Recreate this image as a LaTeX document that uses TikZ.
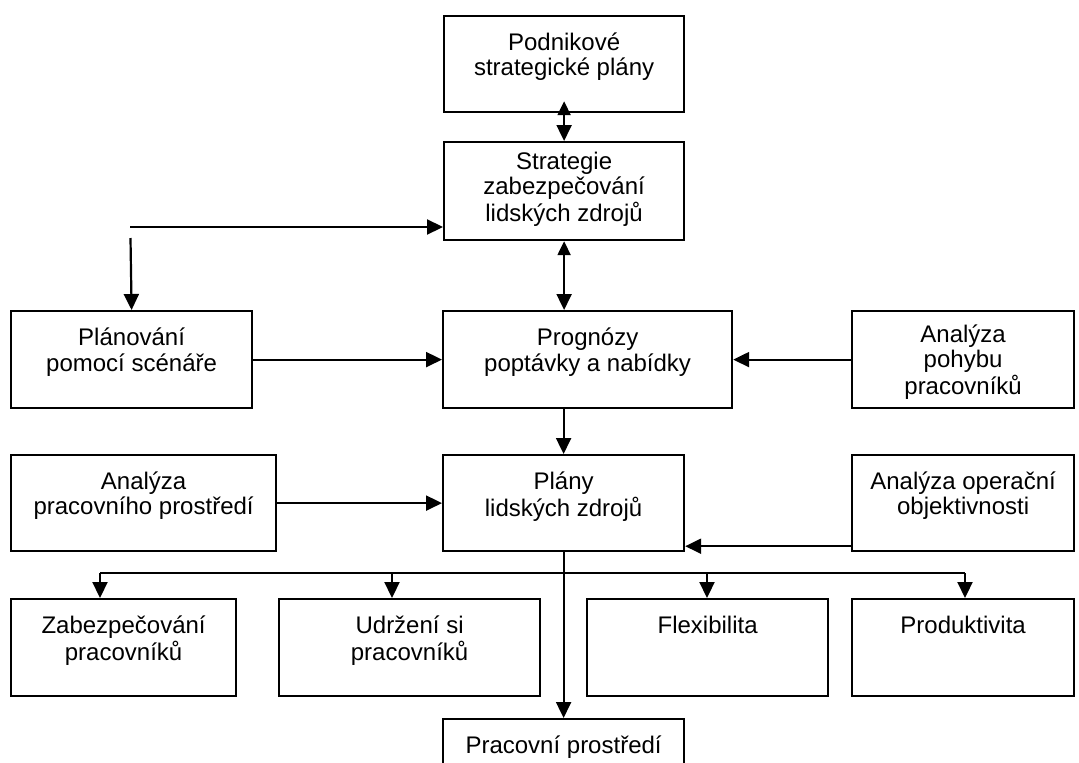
\documentclass[tikz,border=0pt]{standalone}
\usepackage{fontspec}
\setmainfont{Liberation Sans}
\usepackage{tikz}
\usetikzlibrary{arrows.meta}
\usetikzlibrary{positioning}
\newcommand{\boxlines}[1]{\begin{tabular}[t]{@{}c@{}}#1\end{tabular}}
\tikzset{arr/.style = {-{Triangle[length=16pt, width=15pt]}}}
\tikzset{darr/.style = {{Triangle[length=14pt, width=13pt]}-{Triangle[length=16pt, width=15pt]}}}
\tikzset{box/.style = {draw, anchor = north west, inner sep = 0, minimum height = 96,
                       text height = 34, text depth = 62}}

\begin{document}
\begin{tikzpicture}[x=1pt, y=-1pt, line width=2.2pt,
    font=\fontsize{24}{25.5}\selectfont]
    \useasboundingbox (0, 0) rectangle (1079, 763);

    \node [box, minimum width = 240] (podn) at (443, 15) {\boxlines{Podnikové\\strategické plány}};
    \node [box, minimum width = 240, minimum height = 98, text height = 27, text depth = 71]
      (strat) at (443, 141) {\boxlines{Strategie\\zabezpečování\\lidských zdrojů}};

    \node [box, minimum width = 241, minimum height = 97] (plan) at (10, 310) {\boxlines{Plánování\\pomocí scénáře}};
    \node [box, minimum width = 289, minimum height = 97] (progn) at (442, 310) {\boxlines{Prognózy\\poptávky a nabídky}};
    \node [box, minimum width = 222, minimum height = 97, text height = 31, text depth = 66]
      (pohyb) at (851, 310) {\boxlines{Analýza\\pohybu\\pracovníků}};

    \node [box, minimum width = 265, minimum height = 95] (prostr) at (10, 454) {\boxlines{Analýza\\pracovního prostředí}};
    \node [box, minimum width = 241, minimum height = 95] (plany) at (442, 454) {\boxlines{Plány\\lidských zdrojů}};
    \node [box, minimum width = 222, minimum height = 95] (oper) at (851, 454) {\boxlines{Analýza operační\\objektivnosti}};

    \node [box, minimum width = 225, minimum height = 97] (zabezp) at (10, 598) {\boxlines{Zabezpečování\\pracovníků}};
    \node [box, minimum width = 261, minimum height = 97] (udrz) at (278, 598) {\boxlines{Udržení si\\pracovníků}};
    \node [box, minimum width = 241, minimum height = 97] (flex) at (586, 598) {Flexibilita};
    \node [box, minimum width = 222, minimum height = 97] (prod) at (851, 598) {Produktivita};

    \node [box, minimum width = 241] (prac) at (442, 718) {Pracovní prostředí};

    % top column
    \draw [darr] ([yshift=12pt]podn.south) -- (strat.north);
    \draw [darr] (strat.south) -- (strat.south |- progn.north);
    \draw [arr] (plany.north |- progn.south) -- (plany.north);

    % scenario loop
    \coordinate (feed) at (130, 227);
    \coordinate (scen) at (130.5, 238);
    \draw [arr] (feed) -- (feed -| strat.west);
    \draw [arr] (scen) -- (plan.north);

    % side inputs
    \draw [arr] (plan.east) -- (plan.east -| progn.west);
    \draw [arr] (pohyb.west) -- (pohyb.west -| progn.east);
    \draw [arr] (prostr.east) -- (prostr.east -| plany.west);
    \draw [arr] ([yshift=6pt]oper.south west) -- ([yshift=6pt]oper.south west -| plany.east);

    % outputs
    \coordinate (busw) at (100, 573);
    \coordinate (busb) at (392, 573);
    \coordinate (busc) at (707, 573);
    \coordinate (buse) at (965, 573);
    \draw [arr] (plany.south) -- (prac.north);
    \draw (busw) -- (buse);
    \draw [arr] (busw) -- (busw |- zabezp.north);
    \draw [arr] (busb) -- (busb |- udrz.north);
    \draw [arr] (busc) -- (busc |- flex.north);
    \draw [arr] (buse) -- (buse |- prod.north);
  \end{tikzpicture}
\end{document}
